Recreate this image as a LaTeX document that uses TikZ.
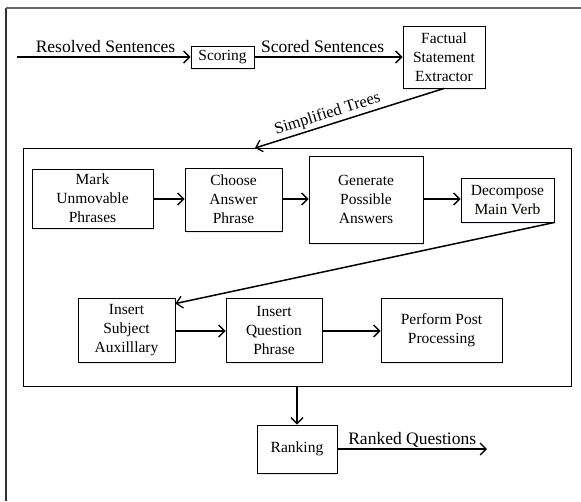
\documentclass[tikz,border=0pt]{standalone}
\usepackage{fontspec}
\setmainfont{Liberation Serif}
\usetikzlibrary{arrows.meta,shadows,calc}
\begin{document}
\begin{tikzpicture}[x=1pt,y=-1pt,
  box/.style={draw, line width=0.9pt, fill=white, align=center, inner sep=0pt,
    font=\fontsize{15.5}{19}\selectfont,
    drop shadow={shadow xshift=1.2pt, shadow yshift=-1.5pt, fill=blue!12, opacity=0.8}},
  flow/.style={line width=1.5pt, -{Straight Barb[length=6pt,width=12pt,line width=1.3pt]}},
  lbl/.style={font=\fontsize{17.5}{20}\selectfont, inner sep=0pt}]
\useasboundingbox (0,0) rectangle (581,501);
\fill[white] (0,0) rectangle (581,501);
% outer frame (open at right and bottom)
\draw[line width=1.2pt, black!80] (6,501) -- (6,8);
\draw[line width=1.5pt, black!60] (6,8) -- (581,8);
% inner box
\node[draw, line width=1pt, minimum width=548, minimum height=238, inner sep=0pt] (inner) at (297,267) {};
% top row
\coordinate (start) at (17,57);
\node[box, minimum width=63, minimum height=22] (scoring) at (222.5,57) {Scoring};
\node[box, minimum width=82, minimum height=62] (factual) at (444,57) {Factual\\Statement\\Extractor};
% inner row 1
\node[box, minimum width=121, minimum height=59] (mark) at (92.5,198.5) {Mark\\Unmovable\\Phrases};
\node[box, minimum width=97, minimum height=63] (choose) at (233.5,199.5) {Choose\\Answer\\Phrase};
\node[box, minimum width=114, minimum height=87] (generate) at (366,199.5) {Generate\\Possible\\Answers};
\node[box, minimum width=93, minimum height=44] (decompose) at (507.5,200) {Decompose\\Main Verb};
% inner row 2
\node[box, minimum width=97, minimum height=64] (subj) at (126.5,330) {Insert\\Subject\\Auxilllary};
\node[box, minimum width=96, minimum height=64] (quest) at (274,330) {Insert\\Question\\Phrase};
\node[box, minimum width=121, minimum height=64] (post) at (441.5,330) {Perform Post\\Processing};
% ranking
\node[box, minimum width=80, minimum height=48] (rank) at (297,449) {Ranking};
\coordinate (endq) at (487,449);
\coordinate (treein) at (255,148);
% connectors
\draw[flow] (start) -- node[lbl, pos=0.51, anchor=base, yshift=5pt] {Resolved Sentences} (scoring.west);
\draw[flow] (scoring.east) -- node[lbl, pos=0.46, anchor=base, yshift=5pt] {Scored Sentences} (factual.west);
\draw[flow] (factual.south) -- node[lbl, font=\fontsize{16.5}{19}\selectfont, pos=0.6, sloped, above, inner sep=2pt] {Simplified Trees} (treein);
\draw[flow] (mark.east |- 0,199) -- (choose.west |- 0,199);
\draw[flow] (choose.east |- 0,199) -- (generate.west |- 0,199);
\draw[flow] (generate.east |- 0,199) -- (decompose.west |- 0,199);
\draw[flow] (decompose.south east) -- ($(subj.north east)+(0,6)$);
\draw[flow] (subj.east |- 0,331) -- (quest.west |- 0,331);
\draw[flow] (quest.east |- 0,331) -- (post.west |- 0,331);
\draw[flow] (inner.south -| rank.north) -- (rank.north);
\draw[flow] (rank.east) -- node[lbl, pos=0.5, anchor=base, yshift=5pt] {Ranked Questions} (endq);
\end{tikzpicture}
\end{document}
